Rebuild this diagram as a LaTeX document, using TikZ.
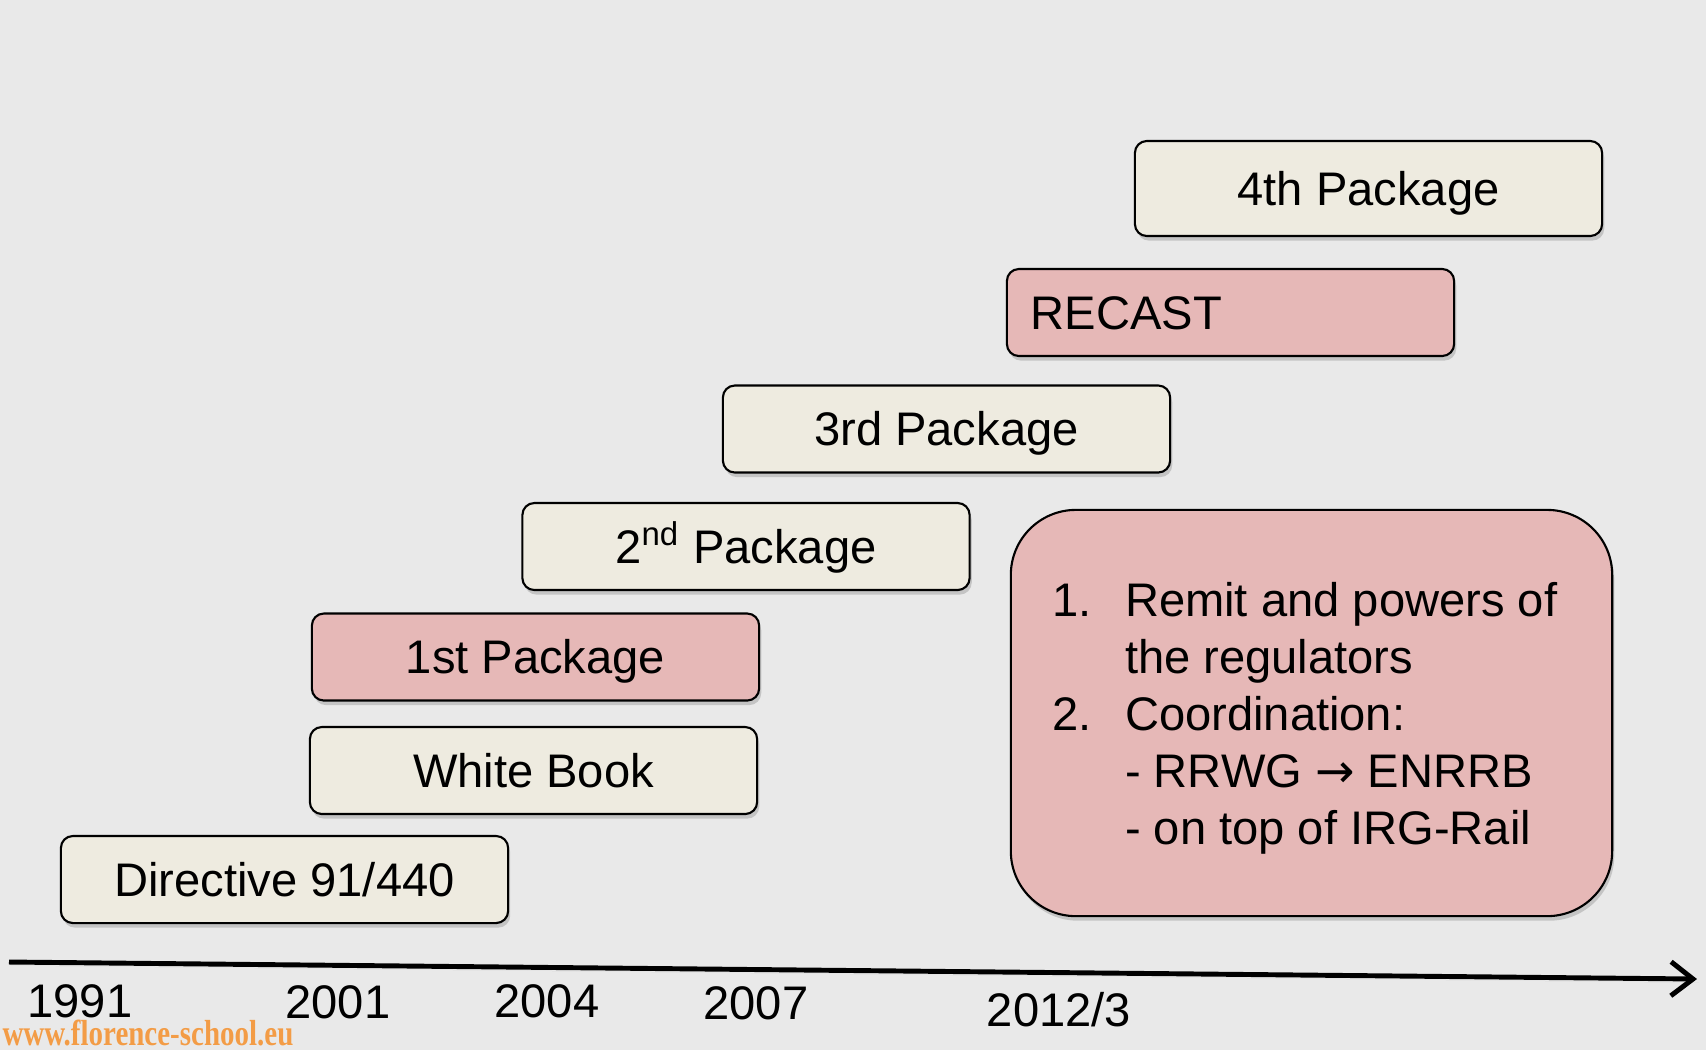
\documentclass[tikz,border=0pt]{standalone}
\usepackage{fontspec}
\setmainfont{Liberation Sans}
\newfontfamily\wwwfont{Liberation Serif}
\newfontfamily\arrowfont{DejaVu Sans}
\usepackage{tikz}
\usetikzlibrary{arrows.meta,shadows}
\definecolor{Fond}{rgb}{0.914, 0.914, 0.914}
\definecolor{Creme}{rgb}{0.933, 0.922, 0.878}
\definecolor{MonRose}{rgb}{0.902, 0.722, 0.718}
\definecolor{Orange}{rgb}{0.953, 0.612, 0.275}

\begin{document}
\begin{tikzpicture}[x=0.01cm, y=-0.01cm]

      \tikzstyle{Pkg}=[rectangle, rounded corners=0.12cm, draw=black, line width=0.6pt,
        minimum width=4.47cm, minimum height=0.87cm, inner sep=0pt,
        text height=9.6pt, text depth=0pt,
        drop shadow={opacity=0.35, shadow xshift=0.6pt, shadow yshift=-1.3pt},
        font=\fontsize{13.4}{16}\selectfont];
      \tikzstyle{Cream}=[Pkg, fill=Creme];
      \tikzstyle{Rose}=[Pkg, fill=MonRose];
      \tikzstyle{Year}=[inner sep=0pt, font=\fontsize{13.4}{16}\selectfont];

      % background and margins
      \fill[Fond] (0,0) rectangle (1706,1050);
      \useasboundingbox (0,0) rectangle (1706,1050);

        \node[Cream](Fourth) at (1368.5, 188.5) [minimum width=4.67cm, minimum height=0.95cm] {4th Package};
        \node[Rose, text width=3.99cm, align=left](Recast) at (1230.5, 312.5) {RECAST};
        \node[Cream](Third) at (946.5, 429) {3rd Package};
        \node[Cream](Second) at (746, 546.5) {2\textsuperscript{nd} Package};
        \node[Rose](First) at (535.5, 657) {1st Package};
        \node[Cream](White) at (533.5, 770.5) {White Book};
        \node[Cream](Dir) at (284.5, 879.5) {Directive 91/440};

        \node[Rose, rounded corners=0.65cm, minimum width=6.01cm, minimum height=4.06cm](Remit) at (1311.5, 713) {};
        \node[inner sep=0pt, font=\fontsize{13.4}{16.2}\selectfont](RemitText) at (1305, 719) {
          \begin{tabular}{@{}l@{\hspace{0.33cm}}l@{}}
            1. & Remit and powers of\\
               & the regulators\\
            2. & Coordination:\\
               & - RRWG {\arrowfont →} ENRRB\\
               & - on top of IRG-Rail
          \end{tabular}};

        % time axis
        \coordinate (AxeIn) at (9, 962);
        \coordinate (AxeOut) at (1697, 979);
        \draw[-{Straight Barb[length=0.22cm, width=0.34cm]}, line width=1.4pt,
          drop shadow={opacity=0.3, shadow xshift=0.5pt, shadow yshift=-1pt}] (AxeIn) -- (AxeOut);

        \node[Year](Y1991) at (80, 1001) {1991};
        \node[Year](Y2001) at (338, 1002) {2001};
        \node[Year](Y2004) at (547, 1001) {2004};
        \node[Year](Y2007) at (756, 1003) {2007};
        \node[Year](Y2012) at (1059, 1010) {2012/3};

        \node[anchor=base west, inner sep=0pt, xscale=0.8, text=Orange, font=\wwwfont\bfseries\fontsize{10.3}{12}\selectfont](Www) at (2, 1045) {www.florence-school.eu};

    \end{tikzpicture}
\end{document}
